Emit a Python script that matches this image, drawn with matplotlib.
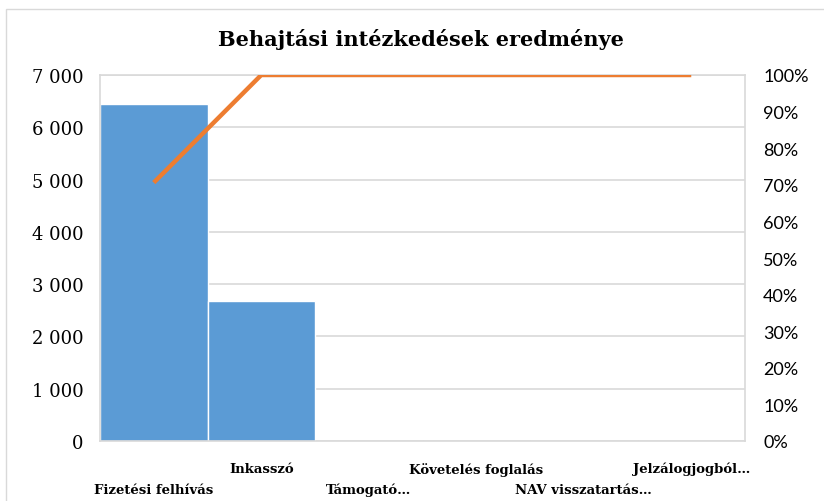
import matplotlib.pyplot as plt
from matplotlib.patches import Rectangle
from matplotlib.ticker import FuncFormatter, PercentFormatter

# adatok
categories = ['Fizetési felhívás', 'Inkasszó', 'Támogató…', 'Követelés foglalás',
              'NAV visszatartás…', 'Jelzálogjogból…']
values = [6450, 2680, 0, 0, 0, 0]
cum_pct = [70.6, 100, 100, 100, 100, 100]

title = 'Behajtási intézkedések eredménye'
SERIF = ['DejaVu Serif']
SANS = ['Lato', 'DejaVu Sans']
GRID = '#D9D9D9'

fig = plt.figure(figsize=(8.24, 5.02), dpi=100)
fig.patches.append(Rectangle((6 / 824, -0.1), 1.2, 1 - 10 / 502 + 0.1,
                             transform=fig.transFigure, fill=False,
                             edgecolor=GRID, linewidth=1))

ax = fig.add_axes([100 / 824, 1 - 442 / 502, 645 / 824, 366 / 502])
x = list(range(len(categories)))
ax.bar(x, values, width=1.0, color='#5B9BD5', edgecolor='white', linewidth=1, zorder=2)
ax.set_xlim(-0.5, len(categories) - 0.5)
ax.set_ylim(0, 7000)
ax.set_yticks(range(0, 7001, 1000))
ax.yaxis.set_major_formatter(FuncFormatter(lambda v, p: f'{int(v):,}'.replace(',', ' ')))
ax.grid(axis='y', color=GRID, linewidth=1.2, zorder=0)
for s in ax.spines.values():
    s.set_color(GRID)
    s.set_linewidth(1.2)
ax.tick_params(axis='y', length=0, pad=12, labelsize=13)
for lab in ax.get_yticklabels():
    lab.set_family(SERIF)

ax.set_xticks(x)
ax.set_xticklabels(categories, fontsize=9.5, fontweight='bold', family=SERIF)
ax.tick_params(axis='x', length=0)
for i, t in enumerate(ax.xaxis.get_major_ticks()):
    t.set_pad(30 if i % 2 == 0 else 15)

ax2 = ax.twinx()
ax2.plot(x, cum_pct, color='#ED7D31', linewidth=3.2, solid_capstyle='butt', zorder=3)
ax2.set_ylim(0, 100)
ax2.set_yticks(range(0, 101, 10))
ax2.yaxis.set_major_formatter(PercentFormatter(decimals=0))
ax2.tick_params(axis='y', length=0, pad=13, labelsize=13)
for lab in ax2.get_yticklabels():
    lab.set_family(SANS)
for s in ax2.spines.values():
    s.set_visible(False)

fig.text(421 / 824, 1 - 40 / 502, title, ha='center', va='center',
         fontsize=15, fontweight='bold', family=SERIF)

fig.savefig('out.png', dpi=100)
